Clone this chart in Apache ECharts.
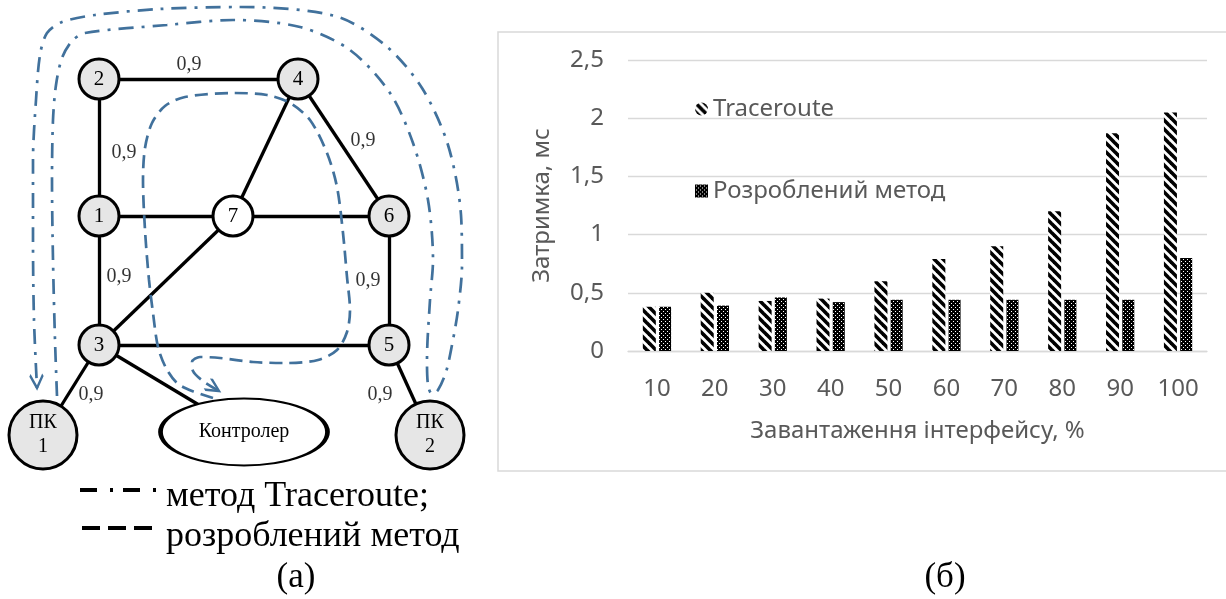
<!DOCTYPE html>
<html><head><meta charset="utf-8">
<script src="https://cdn.jsdelivr.net/npm/echarts@6/dist/echarts.min.js"></script>
<style>html,body{margin:0;padding:0;background:#fff}#c{width:1226px;height:599px}</style>
</head><body><div id="c"></div>
<script>
// ===== Panel (б): bar chart data =====
const loadCategories = ['10','20','30','40','50','60','70','80','90','100'];
const tracerouteDelay = [0.38,0.50,0.43,0.45,0.60,0.79,0.90,1.20,1.87,2.05];
const developedDelay  = [0.38,0.39,0.46,0.42,0.44,0.44,0.44,0.44,0.44,0.80];
const seriesNames = ['Traceroute','Розроблений метод'];
const yAxisTitle = 'Затримка, мс';
const xAxisTitle = 'Завантаження інтерфейсу, %';

// ===== Panel (а): network diagram data =====
const nodeNames = ['1','2','3','4','5','6','7','ПК\n1','ПК\n2'];
const nodeX = [99, 99, 99, 298, 389, 389, 233, 43, 430];
const nodeY = [216, 79, 345, 79, 345, 216, 216, 435, 435];
const controllerName = 'Контролер';
const controllerX = 244, controllerY = 432;
const edgeList = [['2','4'],['2','1'],['1','7'],['7','6'],['4','7'],['4','6'],['1','3'],['6','5'],['3','7'],['3','5'],['3','ПК\n1'],['3',controllerName],['5','ПК\n2']];
const edgeLabelText = '0,9';
const edgeLabelX = [189, 124, 119, 363, 368, 91, 380];
const edgeLabelY = [65, 153, 277, 141, 281, 395, 395];
const traceroutePathX = [57,55,53,52,53,56,62,72,85,167,233,300,350,390,413,428,433,430,427,428,432,438,446,452,458,462,461,448,422,385,335,240,160,95,62,47,40,36,33,33,34,37];
const traceroutePathY = [396,340,260,180,120,85,58,41,33,25,20,27,50,93,143,200,260,300,360,385,394,390,372,345,310,265,215,145,88,45,16,7,9,15,22,33,55,100,160,240,320,388];
const developedPathX = [213,192,177,166,158,153,149,145,143,145,152,165,185,233,267,290,310,327,337,343,347,350,347,337,318,287,253,220,200,192,193,203,219];
const developedPathY = [398,391,383,368,347,313,280,230,180,148,123,106,97,93,95,103,120,153,187,233,277,310,332,350,360,363,362,358,357,362,371,381,391];
const legendTexts = ['метод Traceroute;', 'розроблений метод'];
const captions = ['(а)', '(б)'];

// ---- patterns ----
function hatchPattern(){
  const s = 9;
  const c = document.createElement('canvas'); c.width = s; c.height = s;
  const g = c.getContext('2d');
  g.fillStyle = '#fff'; g.fillRect(0,0,s,s);
  g.strokeStyle = '#000'; g.lineWidth = 3.6;
  [-s,0,s].forEach(o => { g.beginPath(); g.moveTo(o-2,-2); g.lineTo(o+s+2,s+2); g.stroke(); });
  return c;
}
function dotPattern(){
  const c = document.createElement('canvas'); c.width = 4; c.height = 4;
  const g = c.getContext('2d');
  g.fillStyle = '#000'; g.fillRect(0,0,4,4);
  g.fillStyle = '#fff'; g.fillRect(1,1,1,1); g.fillRect(3,3,1,1);
  return c;
}
const hatchFill = {image: hatchPattern(), repeat: 'repeat'};
const dotFill = {image: dotPattern(), repeat: 'repeat'};

const BLUE = '#41719c';
const SERIF = '"Liberation Serif", "Times New Roman", serif';
const SANS = '"Noto Sans", "Open Sans", sans-serif';
const GREY = '#595959';
const FS = 24;

const posOf = {};
nodeNames.forEach((n,i) => posOf[n] = [nodeX[i], nodeY[i]]);
posOf[controllerName] = [controllerX, controllerY];

const zip = (xs, ys) => xs.map((x,i) => [x, ys[i]]);
function arrowRotate(xs, ys){
  const n = xs.length;
  const dx = xs[n-1]-xs[n-2], dy = ys[n-1]-ys[n-2];
  return 90 - Math.atan2(dy, dx) * 180 / Math.PI;
}
const chevron = 'path://M0,0L10,10L20,0M10,20';

const chart = echarts.init(document.getElementById('c'), null, {renderer: 'canvas'});
chart.setOption({
  animation: false,
  backgroundColor: '#fff',
  grid: [
    {left: 628, right: 19, top: 60, bottom: 248},
    {left: 0, top: 0, width: 480, height: 599}
  ],
  xAxis: [
    {gridIndex: 0, type: 'category', data: loadCategories,
     axisLine: {lineStyle: {color: '#d9d9d9', width: 1.3}}, axisTick: {show: false},
     axisLabel: {color: GREY, fontSize: FS, fontFamily: SANS, margin: 26},
     name: xAxisTitle, nameLocation: 'middle', nameGap: 68,
     nameTextStyle: {color: GREY, fontSize: FS, fontFamily: SANS}},
    {gridIndex: 1, type: 'value', min: 0, max: 480, show: false}
  ],
  yAxis: [
    {gridIndex: 0, type: 'value', min: 0, max: 2.5, interval: 0.5,
     axisLine: {show: false}, axisTick: {show: false},
     splitLine: {lineStyle: {color: '#d9d9d9', width: 1.3}},
     axisLabel: {color: GREY, fontSize: FS, fontFamily: SANS, margin: 24,
                 formatter: v => String(v).replace('.', ',')},
     name: yAxisTitle, nameLocation: 'middle', nameGap: 74, nameRotate: 90,
     nameTextStyle: {color: GREY, fontSize: FS, fontFamily: SANS}},
    {gridIndex: 1, type: 'value', min: 0, max: 599, inverse: true, show: false}
  ],
  legend: {
    data: [{name: seriesNames[0], icon: 'circle'}, {name: seriesNames[1], icon: 'rect'}],
    orient: 'vertical', left: 690, top: 92, itemGap: 58, itemWidth: 13, itemHeight: 13,
    textStyle: {color: GREY, fontSize: FS, fontFamily: SANS},
    selectedMode: false
  },
  graphic: [
    {type: 'rect', z: -10, shape: {x: 498, y: 32, width: 760, height: 439},
     style: {fill: 'none', stroke: '#d9d9d9', lineWidth: 1.5}},
    {type: 'line', shape: {x1: 80, y1: 490, x2: 157, y2: 490},
     style: {stroke: '#000', lineWidth: 4, lineDash: [17, 13, 3, 10]}},
    {type: 'line', shape: {x1: 82, y1: 528, x2: 155, y2: 528},
     style: {stroke: '#000', lineWidth: 4, lineDash: [18, 8]}},
    {type: 'text', x: 166, y: 497, style: {text: legendTexts[0], fontSize: 36, fontFamily: SERIF, fill: '#000', verticalAlign: 'middle'}},
    {type: 'text', x: 166, y: 537, style: {text: legendTexts[1], fontSize: 36, fontFamily: SERIF, fill: '#000', verticalAlign: 'middle'}},
    {type: 'text', x: 296, y: 578, style: {text: captions[0], fontSize: 35, fontFamily: SERIF, fill: '#000', align: 'center', verticalAlign: 'middle'}},
    {type: 'text', x: 945, y: 578, style: {text: captions[1], fontSize: 35, fontFamily: SERIF, fill: '#000', align: 'center', verticalAlign: 'middle'}}
  ],
  series: [
    {name: seriesNames[0], type: 'bar', xAxisIndex: 0, yAxisIndex: 0, data: tracerouteDelay,
     barWidth: 13, barGap: '25%', itemStyle: {color: hatchFill}},
    {name: seriesNames[1], type: 'bar', xAxisIndex: 0, yAxisIndex: 0, data: developedDelay,
     barWidth: 12, itemStyle: {color: dotFill}},
    // network edges
    {type: 'lines', coordinateSystem: 'cartesian2d', xAxisIndex: 1, yAxisIndex: 1, z: 2,
     lineStyle: {color: '#000', width: 3.3, opacity: 1, curveness: 0},
     data: edgeList.map(([a,b]) => ({coords: [posOf[a], posOf[b]]}))},
    // controller
    {type: 'scatter', xAxisIndex: 1, yAxisIndex: 1, z: 3, symbol: 'circle', symbolSize: [167, 67],
     itemStyle: {color: '#fff', borderColor: '#000', borderWidth: 3, opacity: 1},
     label: {show: true, position: 'inside', formatter: '{b}', color: '#000', fontSize: 20, fontFamily: SERIF},
     data: [{name: controllerName, value: [controllerX, controllerY]}]},
    // nodes
    {type: 'scatter', xAxisIndex: 1, yAxisIndex: 1, z: 3, symbol: 'circle',
     itemStyle: {color: '#e6e6e6', borderColor: '#000', borderWidth: 3, opacity: 1},
     label: {show: true, position: 'inside', formatter: '{b}', color: '#000', fontSize: 21, fontFamily: SERIF, lineHeight: 24},
     data: nodeNames.map((n,i) => ({
       name: n, value: [nodeX[i], nodeY[i]],
       symbolSize: n.startsWith('ПК') ? 68 : 40,
       itemStyle: n === '7' ? {color: '#fff'} : undefined,
       label: n.startsWith('ПК') ? {fontSize: 20} : undefined
     }))},
    // edge weights
    {type: 'scatter', xAxisIndex: 1, yAxisIndex: 1, z: 3, symbolSize: 0,
     label: {show: true, position: 'inside', formatter: '{b}', color: '#000', fontSize: 20, fontFamily: SERIF},
     data: edgeLabelX.map((x,i) => ({name: edgeLabelText, value: [x, edgeLabelY[i]]}))},
    // traceroute path
    {type: 'line', xAxisIndex: 1, yAxisIndex: 1, z: 4, smooth: 0.3, symbol: 'none',
     lineStyle: {color: BLUE, width: 2.7, type: [15, 8, 3, 8]},
     data: zip(traceroutePathX, traceroutePathY)},
    // developed method path
    {type: 'line', xAxisIndex: 1, yAxisIndex: 1, z: 4, smooth: 0.3, symbol: 'none',
     lineStyle: {color: BLUE, width: 2.7, type: [13, 7]},
     data: zip(developedPathX, developedPathY)},
    // arrow heads
    {type: 'scatter', xAxisIndex: 1, yAxisIndex: 1, z: 5, symbol: chevron, symbolSize: [13, 26],
     itemStyle: {color: 'rgba(0,0,0,0)', borderColor: BLUE, borderWidth: 2.7, opacity: 1},
     data: [
       {value: [traceroutePathX[traceroutePathX.length-1], traceroutePathY[traceroutePathY.length-1]],
        symbolRotate: arrowRotate(traceroutePathX, traceroutePathY)},
       {value: [developedPathX[developedPathX.length-1], developedPathY[developedPathY.length-1]],
        symbolRotate: arrowRotate(developedPathX, developedPathY)}
     ]}
  ]
});
</script></body></html>
